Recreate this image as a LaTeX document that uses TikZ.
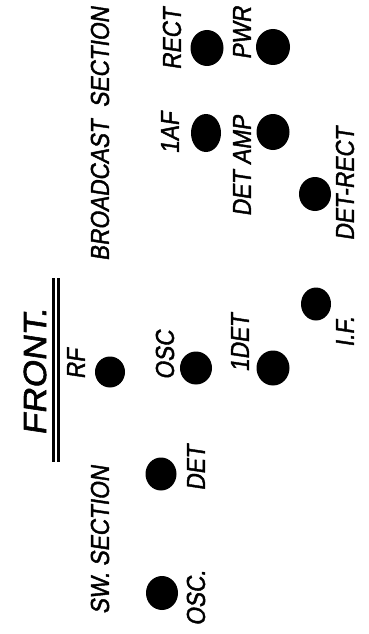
\documentclass[tikz,border=0pt]{standalone}
\usepackage{fontspec}
\usetikzlibrary{shapes.geometric}
\newfontfamily\hand[FakeStretch=0.87,FakeSlant=0.15,FakeBold=1.6]{Liberation Sans}
\newfontfamily\handwide[FakeStretch=1.1,FakeSlant=0.15,FakeBold=1.8]{Liberation Sans}
\tikzset{
  blob/.style={ellipse,fill=black,draw=none,inner sep=0pt},
  lbl/.style={rotate=90,inner sep=0pt,font=\hand\fontsize{26}{26}\selectfont},
  title/.style={rotate=90,inner sep=0pt,font=\handwide\fontsize{32}{32}\selectfont},
  rule/.style={line width=3pt}
}
\begin{document}
\begin{tikzpicture}[x=1pt,y=-1pt]
\useasboundingbox[fill=white] (0,0) rectangle (368,634);
% title
\node[title] (front) at (35,372) {FRONT.};
\coordinate (r1a) at (53,278); \coordinate (r1b) at (53,462);
\coordinate (r2a) at (58.5,278); \coordinate (r2b) at (58.5,462);
\draw[rule] (r1a) -- (r1b);
\draw[rule] (r2a) -- (r2b);
% section labels
\node[lbl] (bc) at (100,134) {BROADCAST\ \ SECTION};
\node[lbl] (sw) at (100,540) {SW. SECTION};
% broadcast labels
\node[lbl] (lrect) at (172,39) {RECT};
\node[lbl] (lpwr) at (242,33) {PWR};
\node[lbl] (liaf) at (170,133) {1AF};
\node[lbl] (ldetamp) at (242,166) {DET AMP};
\node[lbl] (ldetrect) at (345,184) {DET-RECT};
\node[lbl] (lrf) at (76,364) {RF};
\node[lbl] (losc) at (165,355) {OSC};
\node[lbl] (lidet) at (240,343) {1DET};
\node[lbl] (lif) at (345,332) {I.F.};
% sw labels
\node[lbl] (lswdet) at (196,468) {DET};
\node[lbl] (lswosc) at (196,598) {OSC.};
% blobs
\node[blob,minimum width=33pt,minimum height=36pt] (rect) at (207,48) {};
\node[blob,minimum width=34pt,minimum height=36pt] (pwr) at (273,47) {};
\node[blob,minimum width=30pt,minimum height=38pt] (iaf) at (206,133) {};
\node[blob,minimum width=33pt,minimum height=36pt] (detamp) at (273,132) {};
\node[blob,minimum width=32pt,minimum height=34pt] (detrect) at (315,194) {};
\node[blob,minimum width=30pt,minimum height=33pt] (if) at (316,304) {};
\node[blob,minimum width=30pt,minimum height=31pt] (rf) at (110,372) {};
\node[blob,minimum width=32pt,minimum height=33pt] (osc) at (196,368) {};
\node[blob,minimum width=33pt,minimum height=35pt] (idet) at (273,368) {};
\node[blob,minimum width=31pt,minimum height=33pt] (swdet) at (161,474) {};
\node[blob,minimum width=32pt,minimum height=34pt] (swosc) at (162,593) {};
\end{tikzpicture}
\end{document}
